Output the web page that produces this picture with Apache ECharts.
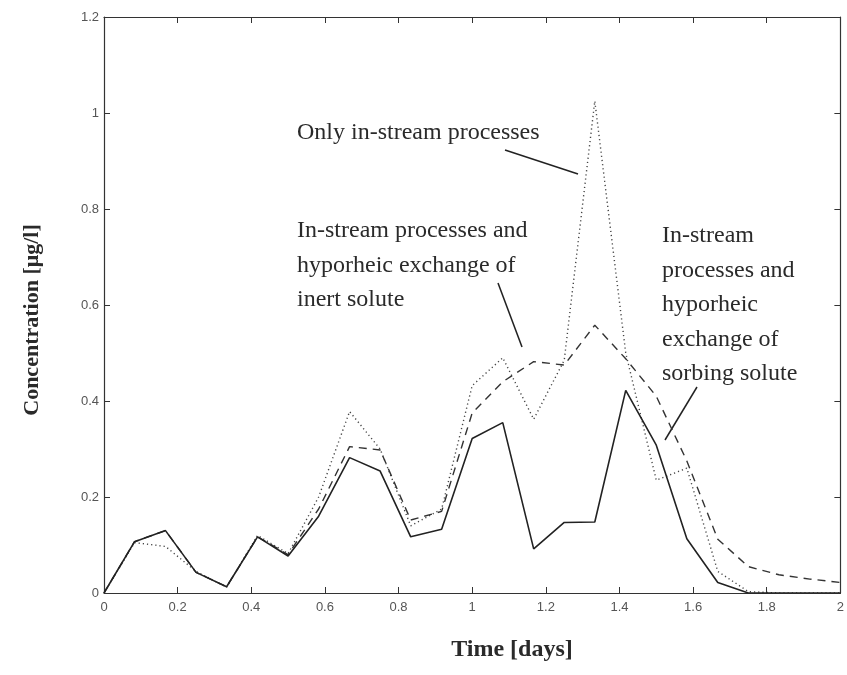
<!DOCTYPE html>
<html>
<head>
<meta charset="utf-8">
<title>Concentration vs time</title>
<script src="https://cdn.jsdelivr.net/npm/echarts@6/dist/echarts.min.js"></script>
<style>
  html, body { margin: 0; padding: 0; background: #fff; }
  #chart { width: 847px; height: 675px; }
</style>
</head>
<body>
<div id="chart"></div>
<script>
// sampling times (days)
var times = [0, 0.083, 0.167, 0.25, 0.333, 0.417, 0.5, 0.583, 0.667, 0.75, 0.833, 0.917, 1,
             1.083, 1.167, 1.25, 1.333, 1.417, 1.5, 1.583, 1.667, 1.75, 1.833, 1.917, 2];
// only in-stream processes (dotted)
var inStream = [0, 0.105, 0.097, 0.045, 0.012, 0.12, 0.082, 0.2, 0.378, 0.3, 0.14, 0.175, 0.432,
                0.49, 0.362, 0.485, 1.025, 0.5, 0.235, 0.26, 0.045, 0.003, 0, 0, 0];
// in-stream + hyporheic exchange of inert solute (dashed)
var inert = [0, 0.107, 0.13, 0.043, 0.013, 0.117, 0.08, 0.175, 0.305, 0.298, 0.152, 0.17, 0.375,
             0.44, 0.482, 0.475, 0.558, 0.488, 0.41, 0.275, 0.112, 0.055, 0.038, 0.029, 0.022];
// in-stream + hyporheic exchange of sorbing solute (solid)
var sorbing = [0, 0.107, 0.13, 0.043, 0.013, 0.117, 0.077, 0.16, 0.282, 0.254, 0.117, 0.133, 0.322,
               0.355, 0.092, 0.147, 0.148, 0.422, 0.308, 0.113, 0.022, 0, 0, 0, 0];

var serif = '"Liberation Serif", "DejaVu Serif", serif';
var sans = '"Liberation Sans", Arial, sans-serif';

function pairs(vals) {
  return times.map(function (t, i) { return [t, vals[i]]; });
}

// annotation texts (one entry per line) and their pointer lines, in pixels
var notes = [
  { x: 297, y: 133, lines: ['Only in-stream processes'] },
  { x: 297, y: 231, lines: ['In-stream processes and', 'hyporheic exchange of', 'inert solute'] },
  { x: 662, y: 236, lines: ['In-stream', 'processes and', 'hyporheic', 'exchange of', 'sorbing solute'] }
];
var pointers = [
  [505, 150, 578, 174],
  [498, 283, 522, 347],
  [697, 387, 665, 440]
];

var graphic = [];
notes.forEach(function (n) {
  n.lines.forEach(function (s, k) {
    graphic.push({
      type: 'text', left: n.x, top: n.y + k * 34.5 - 12, silent: true,
      style: { text: s, font: '24px ' + serif, fill: '#2a2a2a' }
    });
  });
});
pointers.forEach(function (p) {
  graphic.push({
    type: 'line', silent: true,
    shape: { x1: p[0], y1: p[1], x2: p[2], y2: p[3] },
    style: { stroke: '#222', lineWidth: 1.5 }
  });
});
graphic.push({
  type: 'text', silent: true, x: 32, y: 320, rotation: Math.PI / 2,
  style: { text: 'Concentration [μg/l]', font: 'bold 22px ' + serif, fill: '#2a2a2a',
           align: 'center', verticalAlign: 'middle' }
});
graphic.push({
  type: 'text', silent: true, x: 512, y: 650,
  style: { text: 'Time [days]', font: 'bold 24px ' + serif, fill: '#2a2a2a',
           align: 'center', verticalAlign: 'middle' }
});

var axisLine = { show: true, onZero: false, lineStyle: { color: '#333', width: 1.2 } };
var ticks = { show: true, inside: true, length: 6, lineStyle: { color: '#333', width: 1 } };
var lbl = { color: '#555', fontFamily: sans, fontSize: 13 };

var chart = echarts.init(document.getElementById('chart'));
chart.setOption({
  animation: false,
  backgroundColor: '#fff',
  grid: { left: 104, right: 3, top: 17, bottom: 82 },
  xAxis: [
    { type: 'value', min: 0, max: 2, interval: 0.2, position: 'bottom',
      axisLine: axisLine, axisTick: ticks, splitLine: { show: false },
      axisLabel: Object.assign({ margin: 8 }, lbl) },
    { type: 'value', min: 0, max: 2, interval: 0.2, position: 'top',
      axisLine: axisLine, axisTick: ticks, splitLine: { show: false },
      axisLabel: { show: false } }
  ],
  yAxis: [
    { type: 'value', min: 0, max: 1.2, interval: 0.2, position: 'left',
      axisLine: axisLine, axisTick: ticks, splitLine: { show: false },
      axisLabel: Object.assign({ margin: 5 }, lbl) },
    { type: 'value', min: 0, max: 1.2, interval: 0.2, position: 'right',
      axisLine: axisLine, axisTick: ticks, splitLine: { show: false },
      axisLabel: { show: false } }
  ],
  series: [
    { name: 'Only in-stream processes', type: 'line', data: pairs(inStream),
      showSymbol: false, lineStyle: { color: '#444', width: 1.4, type: [1.2, 3] } },
    { name: 'Inert solute', type: 'line', data: pairs(inert),
      showSymbol: false, lineStyle: { color: '#333', width: 1.4, type: [8, 6] } },
    { name: 'Sorbing solute', type: 'line', data: pairs(sorbing),
      showSymbol: false, lineStyle: { color: '#222', width: 1.6 } }
  ],
  graphic: graphic
});
</script>
</body>
</html>
